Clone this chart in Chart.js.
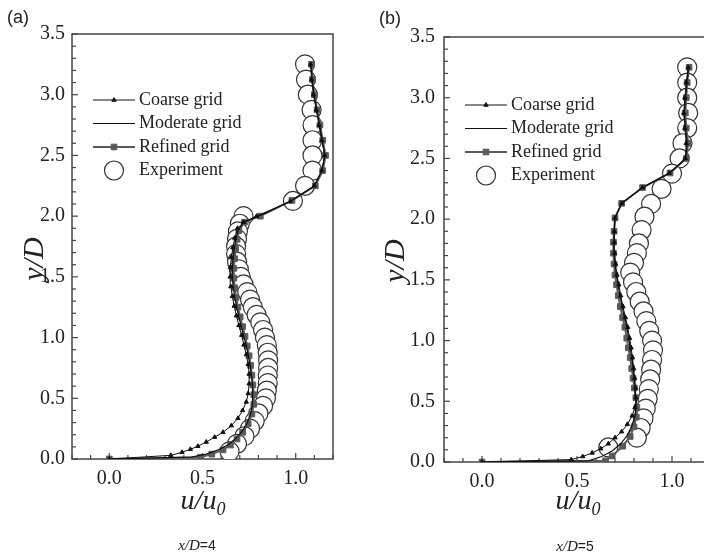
<!DOCTYPE html>
<html>
<head>
<meta charset="utf-8">
<script src="https://cdn.jsdelivr.net/npm/chart.js@4"></script>
<style>
  body { margin: 0; width: 704px; height: 558px; overflow: hidden; position: relative; background: #fff; }
  .panel { position: absolute; top: 0; }
</style>
</head>
<body>
<div class="panel" style="left:0"><canvas id="chart-a" width="352" height="558"></canvas></div>
<div class="panel" style="left:352px"><canvas id="chart-b" width="380" height="558"></canvas></div>
<script>
// axis labels
const xLabelValues = [0, 0.5, 1.0];
const yLabelValues = [0, 0.5, 1.0, 1.5, 2.0, 2.5, 3.0, 3.5];
const seriesNames = ["Coarse grid", "Moderate grid", "Refined grid", "Experiment"];

// x/D = 4, points are [u/u0, y/D]
const coarseA = [[0,0],[0.33,0.03],[0.39,0.055],[0.435,0.08],[0.475,0.105],[0.52,0.14],[0.565,0.18],[0.61,0.22],[0.655,0.275],[0.69,0.335],[0.715,0.4],[0.735,0.47],[0.745,0.54],[0.75,0.62],[0.75,0.7],[0.745,0.78],[0.735,0.86],[0.722,0.94],[0.71,1.02],[0.695,1.1],[0.682,1.18],[0.67,1.26],[0.66,1.34],[0.652,1.42],[0.648,1.5],[0.65,1.58],[0.655,1.66],[0.663,1.74],[0.673,1.82],[0.688,1.9],[0.72,1.95],[0.79,2.0],[0.97,2.12],[1.1,2.25],[1.14,2.375],[1.155,2.5],[1.14,2.625],[1.125,2.75],[1.11,2.875],[1.095,3.0],[1.085,3.125],[1.08,3.25]];
const moderateA = [[0,0],[0.44,0.015],[0.52,0.04],[0.585,0.075],[0.635,0.115],[0.675,0.165],[0.708,0.22],[0.738,0.29],[0.758,0.37],[0.768,0.45],[0.77,0.53],[0.767,0.61],[0.762,0.69],[0.755,0.77],[0.746,0.85],[0.735,0.93],[0.722,1.01],[0.708,1.09],[0.695,1.17],[0.683,1.25],[0.673,1.33],[0.665,1.41],[0.66,1.49],[0.66,1.57],[0.664,1.65],[0.67,1.73],[0.679,1.81],[0.69,1.88],[0.72,1.95],[0.8,2.0],[0.975,2.125],[1.1,2.25],[1.14,2.375],[1.157,2.5],[1.142,2.625],[1.128,2.75],[1.113,2.875],[1.098,3.0],[1.088,3.125],[1.082,3.25]];
const refinedA = [[0,0],[0.49,0.015],[0.55,0.04],[0.61,0.075],[0.65,0.115],[0.685,0.165],[0.715,0.22],[0.745,0.29],[0.765,0.37],[0.775,0.45],[0.775,0.53],[0.77,0.61],[0.765,0.69],[0.758,0.77],[0.75,0.85],[0.74,0.93],[0.728,1.01],[0.715,1.09],[0.702,1.17],[0.69,1.25],[0.68,1.33],[0.673,1.41],[0.668,1.49],[0.668,1.57],[0.672,1.65],[0.678,1.73],[0.686,1.81],[0.695,1.88],[0.725,1.95],[0.81,2.0],[0.98,2.13],[1.105,2.25],[1.145,2.375],[1.16,2.5],[1.145,2.625],[1.13,2.75],[1.115,2.875],[1.1,3.0],[1.09,3.125],[1.085,3.25]];
const experimentA = [[1.05,3.25],[1.055,3.125],[1.065,3.0],[1.085,2.875],[1.09,2.75],[1.09,2.625],[1.09,2.5],[1.09,2.375],[1.05,2.25],[0.985,2.125],[0.72,2.0],[0.7,1.9375],[0.69,1.875],[0.685,1.8125],[0.68,1.75],[0.68,1.6875],[0.685,1.625],[0.695,1.5625],[0.705,1.5],[0.72,1.4375],[0.74,1.375],[0.755,1.3125],[0.77,1.25],[0.79,1.1875],[0.81,1.125],[0.825,1.0625],[0.835,1.0],[0.845,0.9375],[0.85,0.875],[0.852,0.8125],[0.852,0.75],[0.85,0.6875],[0.85,0.625],[0.845,0.5625],[0.84,0.5],[0.825,0.4375],[0.8,0.375],[0.78,0.3125],[0.755,0.25],[0.725,0.1875],[0.685,0.125],[0.645,0.0625]];

// x/D = 5
const coarseB = [[0,0],[0.47,0.02],[0.53,0.045],[0.58,0.075],[0.625,0.11],[0.665,0.15],[0.7,0.2],[0.735,0.25],[0.765,0.31],[0.79,0.38],[0.805,0.45],[0.81,0.53],[0.808,0.61],[0.803,0.69],[0.798,0.77],[0.792,0.86],[0.785,0.94],[0.777,1.02],[0.767,1.11],[0.755,1.19],[0.742,1.28],[0.73,1.37],[0.72,1.46],[0.71,1.54],[0.703,1.63],[0.698,1.72],[0.696,1.81],[0.697,1.9],[0.7,2.01],[0.735,2.13],[0.845,2.26],[0.985,2.38],[1.07,2.5],[1.075,2.625],[1.068,2.75],[1.062,2.875],[1.068,3.0],[1.075,3.125],[1.085,3.25]];
const moderateB = [[0,0],[0.56,0.01],[0.63,0.045],[0.685,0.09],[0.73,0.15],[0.765,0.22],[0.79,0.3],[0.805,0.38],[0.812,0.46],[0.81,0.54],[0.806,0.62],[0.8,0.7],[0.795,0.78],[0.788,0.86],[0.78,0.94],[0.772,1.02],[0.762,1.11],[0.75,1.19],[0.738,1.28],[0.726,1.37],[0.716,1.46],[0.707,1.54],[0.7,1.63],[0.696,1.72],[0.694,1.81],[0.696,1.9],[0.7,2.01],[0.735,2.13],[0.845,2.26],[0.988,2.38],[1.072,2.5],[1.08,2.625],[1.07,2.75],[1.065,2.875],[1.07,3.0],[1.078,3.125],[1.088,3.25]];
const refinedB = [[0,0],[0.65,0.01],[0.685,0.05],[0.74,0.13],[0.78,0.21],[0.8,0.29],[0.812,0.37],[0.815,0.45],[0.81,0.53],[0.802,0.61],[0.795,0.69],[0.788,0.77],[0.78,0.86],[0.77,0.94],[0.762,1.02],[0.752,1.11],[0.74,1.19],[0.728,1.28],[0.717,1.37],[0.708,1.46],[0.7,1.54],[0.695,1.63],[0.692,1.72],[0.692,1.81],[0.695,1.9],[0.7,2.01],[0.735,2.13],[0.845,2.26],[0.99,2.38],[1.075,2.5],[1.085,2.625],[1.075,2.75],[1.07,2.875],[1.075,3.0],[1.08,3.125],[1.09,3.25]];
const experimentB = [[1.08,3.25],[1.08,3.125],[1.08,3.0],[1.085,2.875],[1.08,2.75],[1.055,2.625],[1.04,2.5],[1.0,2.375],[0.945,2.25],[0.89,2.125],[0.855,2.02],[0.84,1.91],[0.826,1.8],[0.815,1.72],[0.8,1.64],[0.78,1.56],[0.795,1.48],[0.812,1.4],[0.83,1.32],[0.85,1.24],[0.865,1.16],[0.88,1.08],[0.895,1.0],[0.9,0.92],[0.895,0.84],[0.89,0.76],[0.885,0.68],[0.878,0.6],[0.872,0.52],[0.862,0.44],[0.85,0.36],[0.835,0.28],[0.815,0.2],[0.665,0.12]];

const serif = "'Liberation Serif', 'Times New Roman', serif";
const sans = "'Liberation Sans', Arial, sans-serif";
Chart.defaults.font.family = serif;
const isLabel = (list, v) => list.some((t) => Math.abs(t - v) < 1e-6);
const fmt = (list) => (v) => (isLabel(list, v) ? Math.abs(Number(v)).toFixed(1) : "");
const toPoints = (arr) => arr.map((p) => ({ x: p[0], y: p[1] }));

const frame = {
  id: "frame",
  beforeDatasetsDraw(chart) {
    const { ctx, chartArea: a, scales } = chart;
    ctx.save();
    ctx.strokeStyle = "#444";
    ctx.lineWidth = 1.5;
    ctx.strokeRect(a.left, a.top, a.right - a.left, a.bottom - a.top);
    ctx.lineWidth = 1.2;
    scales.x.ticks.forEach((t) => {
      const px = scales.x.getPixelForValue(t.value);
      const len = isLabel(xLabelValues, t.value) ? 6 : 4;
      ctx.beginPath();
      ctx.moveTo(px, a.bottom);
      ctx.lineTo(px, a.bottom - len);
      ctx.stroke();
    });
    scales.y.ticks.forEach((t) => {
      const py = scales.y.getPixelForValue(t.value);
      const len = isLabel(yLabelValues, t.value) ? 6 : 4;
      ctx.beginPath();
      ctx.moveTo(a.left, py);
      ctx.lineTo(a.left + len, py);
      ctx.stroke();
    });
    ctx.restore();
  },
  afterDraw(chart, args, opts) {
    const { ctx } = chart;
    ctx.save();
    ctx.fillStyle = "#222";
    ctx.textBaseline = "middle";
    // panel letter
    ctx.font = `18px ${sans}`;
    ctx.textAlign = "left";
    ctx.fillText(opts.letter, opts.letterPos[0], opts.letterPos[1]);
    // y title
    ctx.save();
    ctx.translate(opts.yTitlePos[0], opts.yTitlePos[1]);
    ctx.rotate(-Math.PI / 2);
    ctx.textAlign = "center";
    ctx.font = `italic 30px ${serif}`;
    ctx.fillText("y/D", 0, 0);
    ctx.restore();
    // x title u/u0
    ctx.font = `italic 28px ${serif}`;
    const w1 = ctx.measureText("u/u").width;
    ctx.font = `italic 18px ${serif}`;
    const w2 = ctx.measureText("0").width;
    let x0 = opts.xTitlePos[0] - (w1 + w2) / 2;
    ctx.textAlign = "left";
    ctx.font = `italic 28px ${serif}`;
    ctx.fillText("u/u", x0, opts.xTitlePos[1]);
    ctx.font = `italic 18px ${serif}`;
    ctx.fillText("0", x0 + w1, opts.xTitlePos[1] + 8);
    // x/D caption
    ctx.font = `italic 15px ${serif}`;
    const c1 = ctx.measureText("x/D").width;
    ctx.font = `14px ${sans}`;
    const c2 = ctx.measureText(opts.caption).width;
    x0 = opts.captionPos[0] - (c1 + c2) / 2;
    ctx.font = `italic 15px ${serif}`;
    ctx.fillText("x/D", x0, opts.captionPos[1]);
    ctx.font = `14px ${sans}`;
    ctx.fillText(opts.caption, x0 + c1, opts.captionPos[1]);
    // legend
    const [lx, ly] = opts.legendPos;
    const lineLen = 42, rowH = 23.5;
    chart.data.datasets.forEach((ds, i) => {
      const y = ly + i * rowH;
      if (ds.showLine) {
        ctx.strokeStyle = ds.borderColor;
        ctx.lineWidth = ds.borderWidth;
        ctx.beginPath();
        ctx.moveTo(lx, y);
        ctx.lineTo(lx + lineLen, y);
        ctx.stroke();
      }
      if (ds.pointRadius > 0) {
        ctx.fillStyle = ds.pointBackgroundColor;
        ctx.strokeStyle = ds.pointBorderColor;
        ctx.lineWidth = ds.pointBorderWidth;
        Chart.helpers.drawPoint(ctx, { pointStyle: ds.pointStyle, radius: ds.pointRadius, borderWidth: ds.pointBorderWidth, rotation: 0 }, lx + lineLen / 2, y);
      }
      ctx.fillStyle = "#222";
      ctx.font = `18px ${serif}`;
      ctx.textAlign = "left";
      ctx.fillText(ds.label, lx + lineLen + 4, y);
    });
    ctx.restore();
  },
};

function makePanel(id, series, p) {
  const datasets = [
    { label: seriesNames[0], data: toPoints(series[0]), showLine: true, borderColor: "#111", borderWidth: 1, pointStyle: "triangle", pointRadius: 2.5, pointBackgroundColor: "#111", pointBorderColor: "#111", pointBorderWidth: 1 },
    { label: seriesNames[1], data: toPoints(series[1]), showLine: true, borderColor: "#111", borderWidth: 1.2, pointRadius: 0, pointBackgroundColor: "#111", pointBorderColor: "#111", pointBorderWidth: 1 },
    { label: seriesNames[2], data: toPoints(series[2]), showLine: true, borderColor: "#5a5a5a", borderWidth: 2, pointStyle: "rect", pointRadius: 4, pointBackgroundColor: "#5a5a5a", pointBorderColor: "#5a5a5a", pointBorderWidth: 1 },
    { label: seriesNames[3], data: toPoints(series[3]), showLine: false, borderColor: "#333", pointStyle: "circle", pointRadius: 9.5, pointBackgroundColor: "#fff", pointBorderColor: "#333", pointBorderWidth: 1.2 },
  ];
  const tickFont = { family: serif, size: 20 };
  return new Chart(document.getElementById(id), {
    type: "scatter",
    data: { datasets },
    plugins: [frame],
    options: {
      responsive: false,
      animation: false,
      events: [],
      layout: { padding: { top: p.top, right: p.right, left: 0, bottom: 0 } },
      plugins: {
        legend: { display: false },
        tooltip: { enabled: false },
        frame: p,
      },
      scales: {
        x: {
          type: "linear",
          min: -0.2,
          max: 1.2,
          grid: { display: false, drawTicks: false },
          border: { display: false },
          ticks: { stepSize: 0.1, autoSkip: false, maxRotation: 0, padding: 8, color: "#222", font: tickFont, callback: fmt(xLabelValues) },
          afterFit: (scale) => { scale.height = p.xHeight; },
        },
        y: {
          type: "linear",
          min: 0,
          max: 3.5,
          grid: { display: false, drawTicks: false },
          border: { display: false },
          ticks: { stepSize: 0.1, autoSkip: false, padding: p.yPad, color: "#222", font: tickFont, callback: fmt(yLabelValues) },
          afterFit: (scale) => { scale.width = p.yWidth; },
        },
      },
    },
  });
}

makePanel("chart-a", [coarseA, moderateA, refinedA, experimentA], {
  top: 34, right: 19, xHeight: 99, yWidth: 72, yPad: 7,
  letter: "(a)", letterPos: [7, 18],
  yTitlePos: [35, 259], xTitlePos: [203, 502],
  caption: "=4", captionPos: [197, 546],
  legendPos: [93, 100],
});
makePanel("chart-b", [coarseB, moderateB, refinedB, experimentB], {
  top: 37, right: 22, xHeight: 96, yWidth: 92, yPad: 9,
  letter: "(b)", letterPos: [27, 19],
  yTitlePos: [44, 261], xTitlePos: [226, 502],
  caption: "=5", captionPos: [223, 547],
  legendPos: [113, 105],
});
</script>
</body>
</html>
